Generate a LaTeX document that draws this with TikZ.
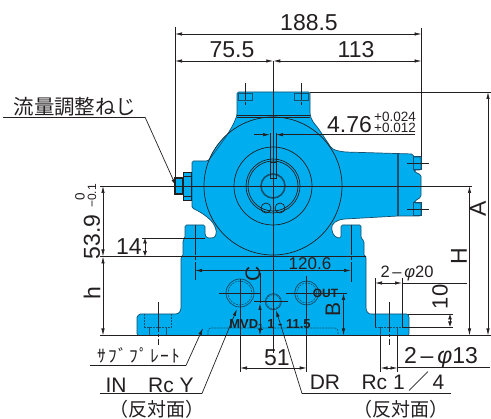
\documentclass[tikz,border=0pt]{standalone}
\usepackage{fontspec}
\setmainfont{Liberation Sans}
\newfontfamily\jpfont{Noto Sans CJK JP}
\newfontfamily\kanafont[LetterSpace=10]{Noto Sans CJK JP}
\usetikzlibrary{
  arrows.meta,
  positioning,
}
\definecolor{bodyblue}{HTML}{00AEEF}
\definecolor{inkdark}{HTML}{231F20}
\definecolor{edgeblue}{HTML}{14506E}
\tikzset{
  >={Latex[length=7pt,width=3.4pt]},
  ink/.style={draw=inkdark, line width=0.7pt},
  outline/.style={draw=edgeblue, line width=0.7pt},
  heavy/.style={draw=inkdark, line width=1.1pt},
  hidden/.style={draw=edgeblue, line width=0.6pt, dash pattern=on 2pt off 1pt},
  centre/.style={draw=inkdark, line width=0.6pt, dash pattern=on 22pt off 2pt on 3pt off 2pt},
  dim/.style={ink, <->},
  tiny dim/.style={ink, <->, >={Latex[length=5.5pt,width=4pt]}},
  lead/.style={ink, ->},
  dimtext/.style={inner sep=0, text=inkdark, font=\fontsize{23}{23}\selectfont},
  porttext/.style={inner sep=0, text=inkdark, font=\fontsize{21}{21}\selectfont},
  tol/.style={inner sep=0, text=inkdark, font=\fontsize{13.5}{13.5}\selectfont},
  jp/.style={inner sep=0, text=inkdark, font=\jpfont\fontsize{19}{19}\selectfont},
  stamped/.style={inner sep=0, text=inkdark, font=\bfseries\fontsize{13}{13}\selectfont},
}
\begin{document}
\begin{tikzpicture}[x=1pt, y=-1pt]
      \useasboundingbox (0, 0) rectangle (491, 419);
      % body
      \fill [bodyblue] (273, 186) circle (69);
      \path [outline, fill=bodyblue, rounded corners=1.5pt]
        (237, 92) -- (310, 92) -- (310, 113) .. controls (311, 120) and (314, 123) .. (318, 128)
        -- (330, 146) .. controls (333, 150) and (338, 151) .. (345, 152)
        -- (413, 154) -- (413, 157) -- (421, 157) -- (421, 170) -- (414, 170) -- (415, 172)
        -- (421, 175) -- (421, 197) -- (415, 201) -- (414, 203) -- (421, 203) -- (421, 216)
        -- (413, 216) -- (398, 216) -- (345, 219) .. controls (336, 220) and (331, 224) .. (332, 230)
        .. controls (333, 235) and (336, 238) .. (341, 238) -- (341, 225) -- (361, 225) -- (361, 238)
        -- (364, 241) -- (364, 256.5) -- (366, 256.5) -- (366, 306)
        .. controls (366, 311) and (368, 314) .. (372, 314) -- (405, 314)
        .. controls (408, 314) and (409, 316) .. (409, 319) -- (409, 335.5) -- (137, 335.5) -- (137, 319)
        .. controls (137, 316) and (139, 314) .. (142, 314) -- (174, 314)
        .. controls (179, 314) and (181, 311) .. (181, 306) -- (181, 256.5) -- (183, 256.5) -- (183, 240)
        -- (185, 238) -- (185, 225) -- (205, 225) -- (205, 235) -- (207, 238) -- (212, 238)
        .. controls (216, 237) and (217, 232) .. (215, 227) .. controls (212, 220) and (203, 213) .. (192, 208)
        -- (192, 161) -- (208, 161) -- (212, 156) .. controls (220, 145) and (232, 130) .. (237, 115) -- cycle;
      % circles of the housing
      \foreach \r in {69, 39, 27, 25}
      {
        \draw [ink] (273, 186) circle (\r);
      }
      \draw [draw=edgeblue, line width=1.6pt] (273, 186) circle (12);
      \draw [ink] (237, 115) -- (310, 115);
      \draw [ink] (237, 117) -- (310, 117);
      \draw [draw=edgeblue, line width=1.1pt] (398, 154) -- (398, 216);
      \foreach \x in {266, 280}
      {
        \draw [ink] (\x, 208) circle (5);
      }
      % keyway
      \draw [ink] (270, 133) -- (270, 178) -- (276, 178) -- (276, 133);
      \draw [ink] (270, 162) -- (276, 162);
      % lug on the left
      \path [heavy, fill=bodyblue] (175, 178) rectangle (183, 194);
      \path [ink, fill=bodyblue] (183, 172) rectangle (191, 200);
      \draw [ink] (183, 176) -- (191, 176);
      \draw [ink] (183, 196) -- (191, 196);
      % top and side bolts
      \foreach \x in {237, 293}
      {
        \draw [outline] (\x + 1, 93) rectangle (\x + 15, 100);
        \draw [centre, dash pattern=on 17pt off 2pt on 3pt off 2pt] (\x + 8, 83) -- (\x + 8, 107);
      }
      \foreach \y in {157, 203}
      {
        \draw [outline, line width=1pt] (413, \y) rectangle (421, \y + 13);
        \draw [ink] (407, \y + 6.5) -- (429, \y + 6.5);
      }
      % foot bolts
      \foreach \x in {158, 389}
      {
        \draw [hidden] (\x - 13.5, 314) -- (\x - 13.5, 327) -- (\x + 13.5, 327) -- (\x + 13.5, 314);
        \draw [outline] (\x - 8.5, 327) -- (\x - 8.5, 335.5);
        \draw [outline] (\x + 8.5, 327) -- (\x + 8.5, 335.5);
        \draw [centre, dash pattern=on 30pt off 2pt on 3pt off 2pt] (\x, 302) -- (\x, 345);
      }
      \draw [hidden, rounded corners=3pt] (208, 335) -- (208, 328) -- (338, 328) -- (338, 335);
      % ports
      \foreach \x/\y/\ra/\rb/\xl/\xr in {240/293/14/12/219/261, 273.3/301.7/8/7/254/288, 306.7/293/12/10/286/347}
      {
        \draw [outline, line width=0.8pt] (\x, \y) circle (\ra);
        \draw [hidden] (\x, \y) circle (\rb);
        \draw [ink] (\xl, \y) -- (\xr, \y);
      }
      \node [stamped, font=\bfseries\fontsize{12}{12}\selectfont] (markout) at (325.5, 293) {OUT};
      \node [stamped] (markmodel) at (270, 325) {MVD\textsubscript{1} 1 - 11.5};
      % outer lines
      \draw [ink] (100, 186) -- (472, 186);
      \draw [ink] (100, 256.5) -- (366, 256.5);
      \draw [heavy] (100, 335.5) -- (409, 335.5);
      \draw [ink] (409, 335.5) -- (491, 335.5);
      \draw [ink] (310, 92) -- (491, 92);
      \draw [ink] (175, 27) -- (175, 178);
      \draw [ink] (421.5, 28) -- (421.5, 157);
      \draw [ink] (273.3, 61) -- (273.3, 353);
      % overall widths
      \coordinate (wl) at (175, 34);
      \coordinate (wr) at (421.5, 34);
      \coordinate (ml) at (175, 61);
      \coordinate (mc) at (273.3, 61);
      \coordinate (mr) at (421.5, 61);
      \draw [dim] (wl) -- (wr);
      \draw [dim] (ml) -- (mc);
      \draw [dim] (mc) -- (mr);
      \node [dimtext] (width) at (309, 23) {188.5};
      \node [dimtext] (leftw) at (232, 50) {75.5};
      \node [dimtext] (rightw) at (356, 50) {113};
      % key width
      \coordinate (kl) at (254, 134.7);
      \coordinate (ka) at (270, 134.7);
      \coordinate (kb) at (276, 134.7);
      \coordinate (kr) at (415, 134.7);
      \draw [lead] (kl) -- (ka);
      \draw [lead] (kr) -- (kb);
      \node [dimtext] (keyw) at (349.5, 125) {4.76};
      \node [tol] (tolup) at (395, 116.5) {+0.024};
      \node [tol] (tollow) at (395, 128) {+0.012};
      % heights on the right
      \coordinate (at) at (488, 92);
      \coordinate (ab) at (488, 335.5);
      \coordinate (ht) at (469.5, 186);
      \coordinate (hb) at (469.5, 335.5);
      \draw [dim] (at) -- (ab);
      \draw [dim] (ht) -- (hb);
      \node [dimtext, rotate=90] (heighta) at (478, 209) {A};
      \node [dimtext, rotate=90] (heighth) at (459, 256) {H};
      % heights on the left
      \coordinate (st) at (103, 186);
      \coordinate (sm) at (103, 256.5);
      \coordinate (sb) at (103, 335.5);
      \draw [dim] (st) -- (sm);
      \draw [dim] (sm) -- (sb);
      \node [dimtext, rotate=90] (shaft) at (92, 237) {53.9};
      \node [tol, rotate=90] (shaftup) at (80, 197) {0};
      \node [tol, rotate=90, font=\fontsize{12}{12}\selectfont] (shaftlow) at (92, 196) {\textminus 0.1};
      \node [dimtext, rotate=90] (lowh) at (92, 293) {h};
      % foot height
      \draw [ink] (142, 238) -- (205, 238);
      \coordinate (ft) at (145, 238);
      \coordinate (fb) at (145, 256.5);
      \draw [tiny dim] (ft) -- (fb);
      \node [dimtext] (foot) at (129, 247) {14};
      % foot pitch
      \coordinate (pl) at (195, 270.5);
      \coordinate (pr) at (351, 270.5);
      \draw [dim] (pl) -- (pr);
      \draw [centre, dash pattern=on 30pt off 2pt on 3pt off 2pt] (195, 225) -- (195, 280);
      \draw [centre, dash pattern=on 30pt off 2pt on 3pt off 2pt] (351, 225) -- (351, 282);
      \node [dimtext, font=\fontsize{17}{17}\selectfont] (pitch) at (310, 264) {120.6};
      % port dimensions
      \draw [ink] (240, 279) -- (240, 372);
      \draw [ink] (306.7, 276) -- (306.7, 372);
      \coordinate (ca) at (260, 273);
      \coordinate (cb) at (260, 303);
      \coordinate (cc) at (260, 335.5);
      \draw [ink] (ca) -- (cb);
      \draw [dim] (cb) -- (cc);
      \node [porttext, rotate=90] (portc) at (253, 274) {C};
      \coordinate (bt) at (343.5, 293);
      \coordinate (bb) at (343.5, 335.5);
      \draw [dim] (bt) -- (bb);
      \node [porttext, rotate=90] (portb) at (333, 310) {B};
      \coordinate (pa) at (240, 368);
      \coordinate (pb) at (306.7, 368);
      \draw [dim] (pa) -- (pb);
      \node [dimtext] (ports) at (277, 358) {51};
      % counterbore
      \draw [ink] (375, 278) -- (375, 327);
      \draw [ink] (402, 278) -- (402, 327);
      \coordinate (da) at (375, 283);
      \coordinate (db) at (402, 283);
      \draw [dim] (da) -- (db);
      \draw [ink] (402, 283) -- (467, 283);
      \node [dimtext, font=\fontsize{16.5}{16.5}\selectfont] (bore) at (407, 273) {2\,–\,\textit{φ}20};
      \draw [ink] (408, 314) -- (453, 314);
      \draw [ink] (402, 327) -- (453, 327);
      \coordinate (ea) at (450, 314);
      \coordinate (eb) at (450, 327);
      \draw [tiny dim] (ea) -- (eb);
      \node [dimtext, rotate=90, font=\fontsize{22}{22}\selectfont] (depth) at (440, 297) {10};
      % through hole
      \draw [ink] (380.5, 335.5) -- (380.5, 372);
      \draw [ink] (397.5, 335.5) -- (397.5, 372);
      \coordinate (ga) at (380.5, 368);
      \coordinate (gb) at (397.5, 368);
      \draw [dim] (ga) -- (gb);
      \draw [ink] (397.5, 367.5) -- (490, 367.5);
      \node [dimtext] (hole) at (441, 358) {2\,–\,\textit{φ}13};
      % screw leader
      \node [jp, font=\jpfont\fontsize{20.5}{20.5}\selectfont] (screw) at (75, 107) {流量調整ねじ};
      \coordinate (sa) at (3, 117);
      \coordinate (sc) at (145, 117);
      \coordinate (sd) at (176, 186);
      \draw [ink] (sa) -- (sc);
      \draw [lead] (sc) -- (sd);
      % plate leader
      \node [jp, font=\kanafont\fontsize{17.5}{17.5}\selectfont] (plate) at (139, 355) {ｻﾌﾞﾌﾟﾚｰﾄ};
      \coordinate (ta) at (90, 365.5);
      \coordinate (tc) at (186, 365.5);
      \coordinate (td) at (203, 328);
      \draw [ink] (ta) -- (tc);
      \draw [lead] (tc) -- (td);
      % port leaders
      \node [porttext] (inport) at (116, 385) {IN};
      \node [porttext] (inrc) at (171, 385) {Rc Y};
      \node [jp] (inside) at (157, 409) {（反対面）};
      \coordinate (ia) at (100, 393.5);
      \coordinate (ic) at (202, 393.5);
      \coordinate (id) at (237, 309);
      \draw [ink] (ia) -- (ic);
      \draw [lead] (ic) -- (id);
      \node [porttext] (drport) at (325, 382) {DR};
      \node [porttext] (drrc) at (403, 382) {Rc 1\,{\jpfont ／}\,4};
      \node [jp] (drside) at (401, 409) {（反対面）};
      \coordinate (ra) at (451, 393.5);
      \coordinate (rc) at (302, 393.5);
      \coordinate (rd) at (276, 310);
      \draw [ink] (ra) -- (rc);
      \draw [lead] (rc) -- (rd);
    \end{tikzpicture}
\end{document}
